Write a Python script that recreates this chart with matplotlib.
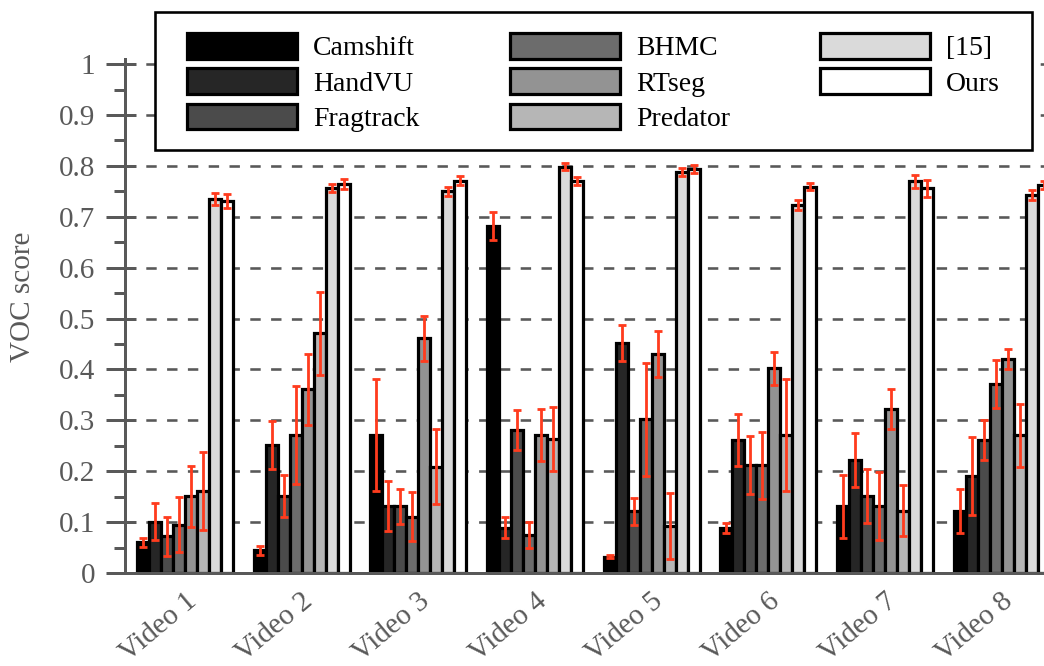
import matplotlib
matplotlib.use("Agg")
import matplotlib.pyplot as plt
import matplotlib.transforms as mtransforms
from matplotlib.patches import Rectangle
from matplotlib.ticker import MultipleLocator
import numpy as np

plt.rcParams['font.family'] = ['Liberation Serif', 'DejaVu Serif']

videos = ["Video 1", "Video 2", "Video 3", "Video 4", "Video 5", "Video 6", "Video 7", "Video 8"]
methods = ["Camshift", "HandVU", "Fragtrack", "BHMC", "RTseg", "Predator", "[15]", "Ours"]
colors = ["#000000", "#262626", "#4b4b4b", "#6c6c6c", "#939393", "#b6b6b6", "#dadada", "#ffffff"]

camshift = [0.060, 0.045, 0.271, 0.682, 0.032, 0.088, 0.131, 0.122]
handvu = [0.101, 0.251, 0.131, 0.089, 0.452, 0.261, 0.222, 0.191]
fragtrack = [0.072, 0.151, 0.131, 0.281, 0.121, 0.212, 0.151, 0.261]
bhmc = [0.095, 0.271, 0.111, 0.075, 0.302, 0.212, 0.131, 0.371]
rtseg = [0.151, 0.361, 0.461, 0.271, 0.431, 0.402, 0.322, 0.421]
predator = [0.161, 0.471, 0.209, 0.263, 0.092, 0.271, 0.122, 0.271]
ref15 = [0.735, 0.756, 0.750, 0.798, 0.788, 0.723, 0.770, 0.743]
ours = [0.731, 0.764, 0.771, 0.771, 0.794, 0.759, 0.756, 0.762]

camshift_err = [0.008, 0.009, 0.110, 0.027, 0.003, 0.010, 0.062, 0.043]
handvu_err = [0.037, 0.047, 0.049, 0.021, 0.036, 0.051, 0.053, 0.077]
fragtrack_err = [0.038, 0.041, 0.034, 0.040, 0.027, 0.057, 0.053, 0.039]
bhmc_err = [0.054, 0.097, 0.049, 0.026, 0.111, 0.066, 0.067, 0.047]
rtseg_err = [0.060, 0.070, 0.044, 0.051, 0.045, 0.032, 0.039, 0.020]
predator_err = [0.076, 0.082, 0.074, 0.063, 0.065, 0.110, 0.050, 0.062]
ref15_err = [0.012, 0.008, 0.009, 0.007, 0.008, 0.009, 0.013, 0.010]
ours_err = [0.013, 0.010, 0.009, 0.008, 0.008, 0.007, 0.017, 0.008]

ytick_values = [0, 0.1, 0.2, 0.3, 0.4, 0.5, 0.6, 0.7, 0.8, 0.9, 1.0]
ytick_labels = ["0", "0.1", "0.2", "0.3", "0.4", "0.5", "0.6", "0.7", "0.8", "0.9", "1"]

series = [camshift, handvu, fragtrack, bhmc, rtseg, predator, ref15, ours]
errors = [camshift_err, handvu_err, fragtrack_err, bhmc_err, rtseg_err, predator_err, ref15_err, ours_err]

W, H = 1044, 666
fig = plt.figure(figsize=(W / 100, H / 100), dpi=100)
ax = fig.add_axes([125 / W, 93 / H, 919 / W, 514 / H])

gray = "#595959"
px = 72 / 100  # points per pixel

x = np.arange(len(videos))
bw = 12 / 116.7
handles = []
for i, (vals, errs) in enumerate(zip(series, errors)):
    b = ax.bar(x + (i - 3.5) * bw, vals, width=bw, color=colors[i], edgecolor="black",
               linewidth=3.2 * px, yerr=errs, label=methods[i], zorder=2,
               error_kw=dict(ecolor="#ff3c1e", elinewidth=2.8 * px, capsize=4 * px,
                             capthick=2.8 * px, zorder=3))
    handles.append(b)

ax.set_xlim(-0.514, 7.361)
ax.set_ylim(0, 1.01)

ax.set_yticks(ytick_values, labels=ytick_labels)
ax.yaxis.set_minor_locator(MultipleLocator(0.05))
ax.tick_params(axis="y", which="major", direction="out", length=19 * px, width=3 * px,
               color=gray, labelcolor=gray, labelsize=21, pad=8)
ax.tick_params(axis="y", which="minor", direction="out", length=11 * px, width=3 * px, color=gray)

sec = ax.secondary_yaxis("left")
sec.set_yticks(ytick_values)
sec.tick_params(axis="y", direction="in", length=11 * px, width=3 * px, color=gray, labelleft=False)
sec.spines["left"].set_visible(False)

ax.set_xticks(x, labels=videos)
ax.tick_params(axis="x", length=0, labelsize=21, labelcolor=gray, pad=18)
offset = mtransforms.ScaledTranslation(8 / 100, 0, fig.dpi_scale_trans)
for lab in ax.get_xticklabels():
    lab.set_rotation(40)
    lab.set_ha("right")
    lab.set_va("center")
    lab.set_rotation_mode("anchor")
    lab.set_transform(lab.get_transform() + offset)

for s in ["top", "right"]:
    ax.spines[s].set_visible(False)
for s in ["left", "bottom"]:
    ax.spines[s].set_color(gray)
    ax.spines[s].set_linewidth(3 * px)

ax.set_axisbelow(True)
ax.yaxis.grid(True, which="major", color=gray, linewidth=2.6 * px, linestyle=(0, (4, 4)))

ax.set_ylabel("VOC score", fontsize=21, color=gray, va="center")
ax.yaxis.set_label_coords(-0.111, 0.537)

frame = Rectangle((155 / W, 1 - 150 / H), 877 / W, 138 / H, transform=fig.transFigure,
                  facecolor="white", edgecolor="black", linewidth=2.6 * px, zorder=3)
fig.add_artist(frame)
leg = fig.legend(handles=handles, labels=methods, ncol=3, loc="upper left",
                 bbox_to_anchor=(187 / W, 1 - 33 / H), frameon=False, borderpad=0,
                 borderaxespad=0, fontsize=20, handlelength=3.96, handleheight=1.05,
                 handletextpad=0.58, columnspacing=3.25, labelspacing=0.25)
leg.set_zorder(5)

fig.savefig("out.png", dpi=100)
